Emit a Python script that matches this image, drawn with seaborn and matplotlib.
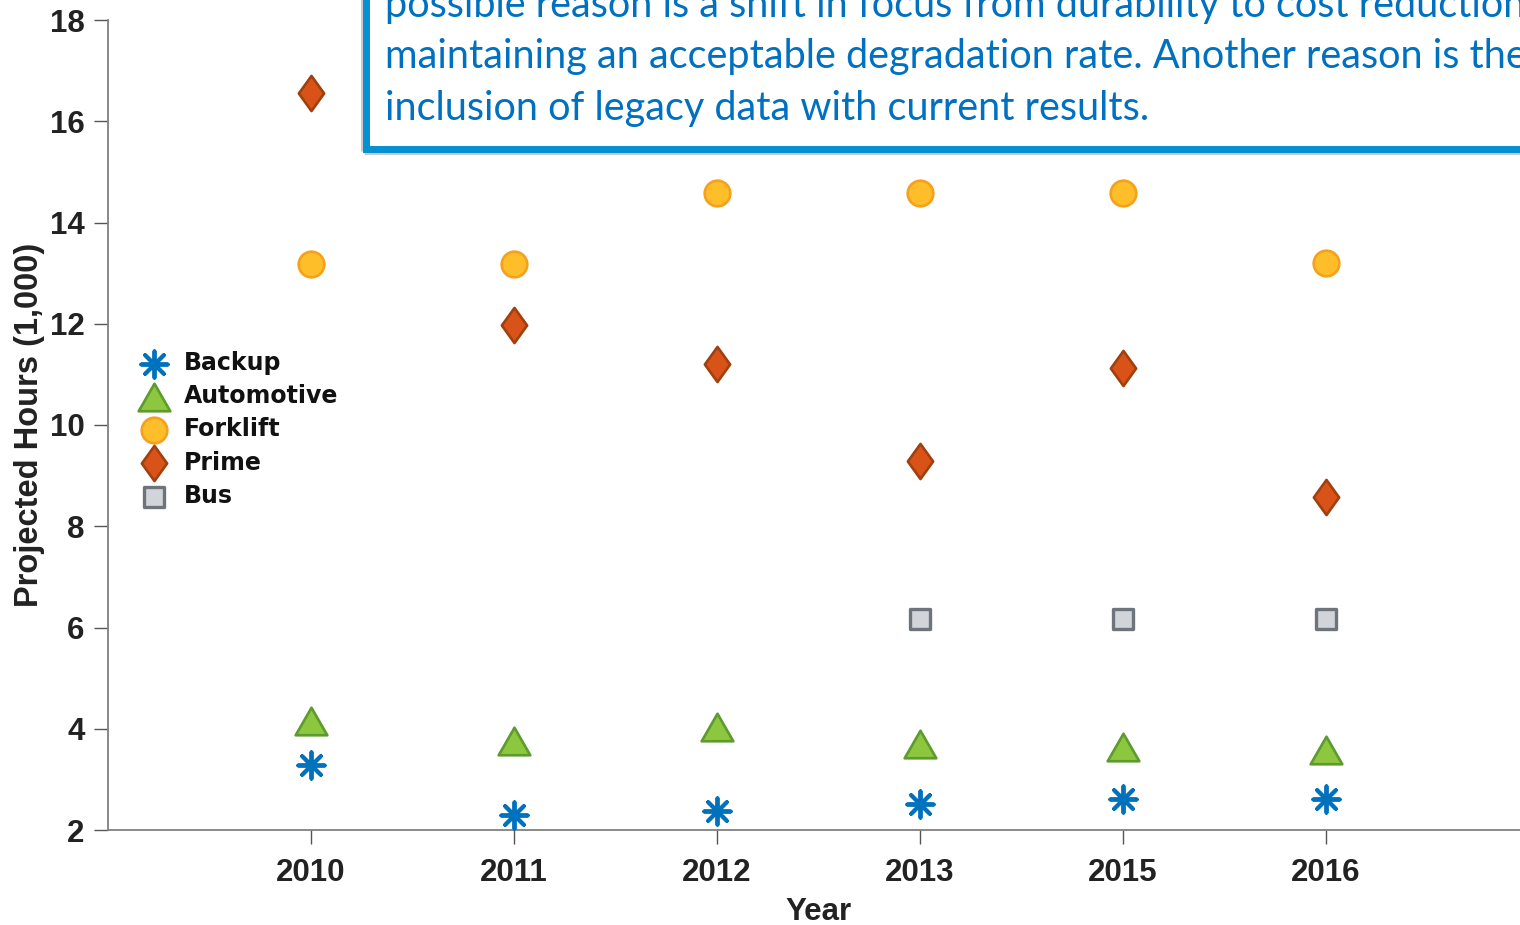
import matplotlib
matplotlib.use("Agg")
import matplotlib.pyplot as plt
import seaborn as sns
import pandas as pd
from matplotlib.path import Path
from matplotlib.patches import Rectangle

# ---------------- data ----------------
years = ["2010", "2011", "2012", "2013", "2015", "2016"]
backup = [3.28, 2.30, 2.38, 2.51, 2.61, 2.61]
automotive = [4.15, 3.76, 4.04, 3.70, 3.64, 3.59]
forklift = [13.19, 13.19, 14.59, 14.59, 14.59, 13.20]
prime = [16.55, 11.98, 11.21, 9.29, 11.13, 8.58]
bus_years = ["2013", "2015", "2016"]
bus = [6.16, 6.16, 6.16]
yticks = [2, 4, 6, 8, 10, 12, 14, 16, 18]
note_lines = [
    "possible reason is a shift in focus from durability to cost reduction",
    "maintaining an acceptable degradation rate. Another reason is the",
    "inclusion of legacy data with current results.",
]

# ---------------- style ----------------
sns.set_theme(style="white")
plt.rcParams["font.family"] = ["Liberation Sans", "DejaVu Sans"]
plt.rcParams["font.weight"] = "bold"

W, H = 1520, 925
fig = plt.figure(figsize=(W / 100, H / 100), dpi=100)
ax = fig.add_axes([108 / W, 95 / H, (1529 - 108) / W, 810 / H])

pos = {y: i for i, y in enumerate(years)}

tri = Path([(0, 0.87), (-1, -0.87), (1, -0.87), (0, 0.87)],
           [Path.MOVETO, Path.LINETO, Path.LINETO, Path.CLOSEPOLY])
dia = Path([(0, 1), (0.72, 0), (0, -1), (-0.72, 0), (0, 1)],
           [Path.MOVETO, Path.LINETO, Path.LINETO, Path.LINETO, Path.CLOSEPOLY])

series = [
    ("Backup", years, backup, dict(marker=(8, 2, 0), s=360, color="#0072BD", linewidths=2.8)),
    ("Automotive", years, automotive, dict(marker=tri, s=520, color="#8DC63F", edgecolor="#5E9B2E", linewidth=1.9)),
    ("Forklift", years, forklift, dict(marker="o", s=340, color="#FDBE2A", edgecolor="#F5A11C", linewidth=1.9)),
    ("Prime", years, prime, dict(marker=dia, s=640, color="#D95319", edgecolor="#A0400F", linewidth=1.9)),
    ("Bus", bus_years, bus, dict(marker="s", s=215, color="#D1D5D9", edgecolor="#6D747B", linewidth=2.4)),
]

for name, xs, ys, kw in series:
    df = pd.DataFrame({"pos": [pos[x] for x in xs], "val": ys})
    sns.scatterplot(data=df, x="pos", y="val", ax=ax, label=name, zorder=3, **kw)

ax.set_xlim(-1, 6)
ax.set_ylim(2, 18)
ax.set_xticks(range(len(years)))
ax.set_xticklabels(years)
ax.set_yticks(yticks)
ax.set_yticklabels([str(v) for v in yticks])

for s in ["top", "right"]:
    ax.spines[s].set_visible(False)
for s in ["left", "bottom"]:
    ax.spines[s].set_color("#808080")
    ax.spines[s].set_linewidth(1.3)

ax.tick_params(axis="both", which="major", direction="out", length=10, width=1,
               color="#555555", labelsize=22.5, labelcolor="#222222",
               left=True, bottom=True)
ax.tick_params(axis="x", pad=10)
ax.tick_params(axis="y", pad=7)
for lab in ax.get_xticklabels() + ax.get_yticklabels():
    lab.set_fontweight("bold")

ax.set_xlabel("Year", fontsize=22.5, fontweight="bold", color="#222222", labelpad=7)
ax.set_ylabel("Projected Hours (1,000)", fontsize=23.5, fontweight="bold", color="#222222", labelpad=3)

leg = ax.legend(loc="upper left", bbox_to_anchor=((139 - 108) / 1421, (830 - 351) / 810),
                frameon=False, borderpad=0, handlelength=1.3, handletextpad=0.62,
                labelspacing=0.39, borderaxespad=0,
                prop={"size": 17, "weight": "bold", "family": "DejaVu Sans"})
for t in leg.get_texts():
    t.set_color("#111111")

# ---------------- annotation box ----------------
px = lambda x: x / W
py = lambda y: 1 - y / H
shadow = Rectangle((px(364), py(151)), px(1300), 200 / H, transform=fig.transFigure,
                   fill=False, edgecolor="#c8c8c8", linewidth=5, zorder=9)
fig.patches.append(shadow)
box = Rectangle((px(365.5), py(149)), px(1300), 200 / H, transform=fig.transFigure,
                facecolor="white", edgecolor="#0590D0", linewidth=5, zorder=10)
fig.patches.append(box)

baselines = [17, 68, 120]
fs = 30
texts = []
for line, b in zip(note_lines, baselines):
    t = fig.text(px(385), py(b), line, fontsize=fs, color="#0070C0", fontweight="normal",
                 family=["Lato", "DejaVu Sans"], va="baseline", ha="left", zorder=11)
    texts.append(t)
fig.canvas.draw()
r = fig.canvas.get_renderer()
w = texts[1].get_window_extent(r).width
scale = 1142 / w
for t in texts:
    t.set_fontsize(fs * scale)

fig.savefig("out.png", dpi=100)
